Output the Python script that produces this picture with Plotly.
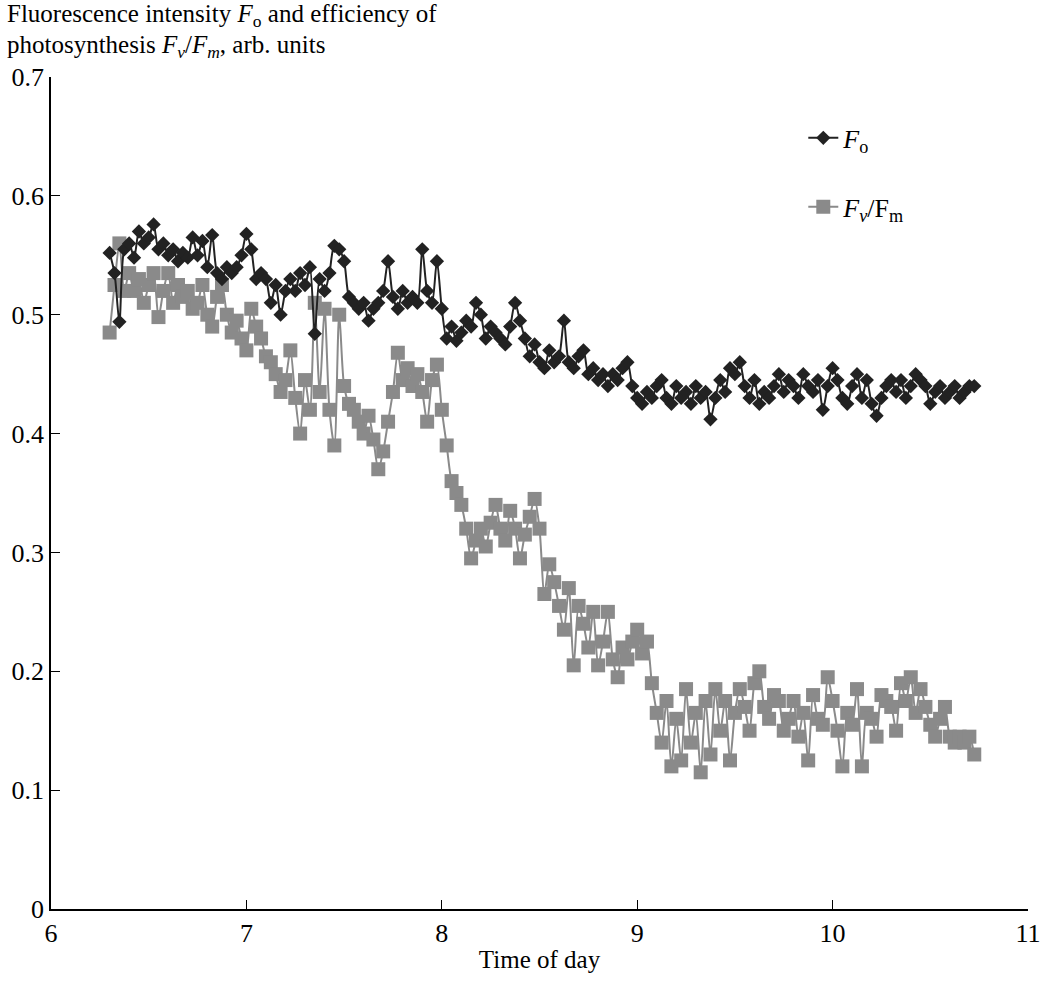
import plotly.graph_objects as go

time_h = [
    6.300, 6.325, 6.350, 6.375, 6.400, 6.425, 6.450, 6.475, 6.500, 6.525,
    6.550, 6.575, 6.600, 6.625, 6.650, 6.675, 6.700, 6.725, 6.750, 6.775,
    6.800, 6.825, 6.850, 6.875, 6.900, 6.925, 6.950, 6.975, 7.000, 7.025,
    7.050, 7.075, 7.100, 7.125, 7.150, 7.175, 7.200, 7.225, 7.250, 7.275,
    7.300, 7.325, 7.350, 7.375, 7.400, 7.425, 7.450, 7.475, 7.500, 7.525,
    7.550, 7.575, 7.600, 7.625, 7.650, 7.675, 7.700, 7.725, 7.750, 7.775,
    7.800, 7.825, 7.850, 7.875, 7.900, 7.925, 7.950, 7.975, 8.000, 8.025,
    8.050, 8.075, 8.100, 8.125, 8.150, 8.175, 8.200, 8.225, 8.250, 8.275,
    8.300, 8.325, 8.350, 8.375, 8.400, 8.425, 8.450, 8.475, 8.500, 8.525,
    8.550, 8.575, 8.600, 8.625, 8.650, 8.675, 8.700, 8.725, 8.750, 8.775,
    8.800, 8.825, 8.850, 8.875, 8.900, 8.925, 8.950, 8.975, 9.000, 9.025,
    9.050, 9.075, 9.100, 9.125, 9.150, 9.175, 9.200, 9.225, 9.250, 9.275,
    9.300, 9.325, 9.350, 9.375, 9.400, 9.425, 9.450, 9.475, 9.500, 9.525,
    9.550, 9.575, 9.600, 9.625, 9.650, 9.675, 9.700, 9.725, 9.750, 9.775,
    9.800, 9.825, 9.850, 9.875, 9.900, 9.925, 9.950, 9.975, 10.000, 10.025,
    10.050, 10.075, 10.100, 10.125, 10.150, 10.175, 10.200, 10.225, 10.250, 10.275,
    10.300, 10.325, 10.350, 10.375, 10.400, 10.425, 10.450, 10.475, 10.500, 10.525,
    10.550, 10.575, 10.600, 10.625, 10.650, 10.675, 10.700, 10.725,
]

fo = [
    0.552, 0.535, 0.494, 0.555, 0.560, 0.548, 0.570, 0.560, 0.565, 0.576,
    0.555, 0.560, 0.550, 0.555, 0.545, 0.552, 0.548, 0.565, 0.550, 0.562,
    0.540, 0.567, 0.535, 0.530, 0.540, 0.535, 0.540, 0.550, 0.568, 0.555,
    0.530, 0.535, 0.530, 0.510, 0.525, 0.500, 0.520, 0.530, 0.520, 0.535,
    0.525, 0.540, 0.484, 0.530, 0.520, 0.535, 0.558, 0.555, 0.545, 0.515,
    0.510, 0.505, 0.510, 0.495, 0.505, 0.510, 0.520, 0.545, 0.515, 0.505,
    0.520, 0.510, 0.515, 0.510, 0.555, 0.520, 0.510, 0.545, 0.505, 0.480,
    0.490, 0.478, 0.485, 0.495, 0.490, 0.510, 0.500, 0.480, 0.490, 0.485,
    0.480, 0.475, 0.490, 0.510, 0.495, 0.480, 0.465, 0.475, 0.460, 0.455,
    0.470, 0.460, 0.465, 0.495, 0.460, 0.455, 0.465, 0.470, 0.450, 0.455,
    0.445, 0.450, 0.440, 0.450, 0.445, 0.455, 0.460, 0.440, 0.430, 0.425,
    0.435, 0.430, 0.440, 0.445, 0.430, 0.425, 0.440, 0.430, 0.435, 0.425,
    0.440, 0.430, 0.435, 0.412, 0.430, 0.445, 0.435, 0.455, 0.450, 0.460,
    0.440, 0.430, 0.445, 0.425, 0.435, 0.430, 0.440, 0.450, 0.435, 0.445,
    0.440, 0.430, 0.450, 0.440, 0.435, 0.445, 0.420, 0.440, 0.455, 0.445,
    0.430, 0.425, 0.440, 0.450, 0.430, 0.445, 0.425, 0.415, 0.430, 0.440,
    0.445, 0.435, 0.445, 0.430, 0.440, 0.450, 0.445, 0.440, 0.425, 0.435,
    0.440, 0.430, 0.435, 0.440, 0.430, 0.435, 0.440, 0.440,
]

fv_fm = [
    0.485, 0.525, 0.560, 0.520, 0.535, 0.520, 0.530, 0.510, 0.525, 0.535,
    0.498, 0.520, 0.535, 0.510, 0.525, 0.515, 0.520, 0.505, 0.510, 0.525,
    0.500, 0.490, 0.515, 0.525, 0.500, 0.485, 0.495, 0.480, 0.470, 0.505,
    0.490, 0.480, 0.465, 0.460, 0.450, 0.435, 0.445, 0.470, 0.430, 0.400,
    0.445, 0.420, 0.510, 0.435, 0.505, 0.420, 0.390, 0.500, 0.440, 0.425,
    0.420, 0.410, 0.400, 0.415, 0.395, 0.370, 0.385, 0.410, 0.435, 0.468,
    0.445, 0.455, 0.440, 0.450, 0.435, 0.410, 0.445, 0.458, 0.420, 0.390,
    0.360, 0.350, 0.340, 0.320, 0.295, 0.310, 0.320, 0.305, 0.325, 0.340,
    0.320, 0.310, 0.335, 0.320, 0.295, 0.315, 0.330, 0.345, 0.320, 0.265,
    0.290, 0.275, 0.255, 0.235, 0.270, 0.205, 0.255, 0.240, 0.220, 0.250,
    0.205, 0.225, 0.250, 0.210, 0.195, 0.220, 0.210, 0.225, 0.235, 0.215,
    0.225, 0.190, 0.165, 0.140, 0.175, 0.120, 0.160, 0.125, 0.185, 0.140,
    0.165, 0.115, 0.175, 0.130, 0.185, 0.150, 0.175, 0.125, 0.165, 0.185,
    0.170, 0.150, 0.190, 0.200, 0.170, 0.160, 0.180, 0.175, 0.150, 0.160,
    0.175, 0.145, 0.165, 0.125, 0.180, 0.160, 0.155, 0.195, 0.175, 0.150,
    0.120, 0.165, 0.155, 0.185, 0.120, 0.165, 0.160, 0.145, 0.180, 0.175,
    0.170, 0.150, 0.190, 0.175, 0.195, 0.165, 0.185, 0.170, 0.155, 0.145,
    0.160, 0.170, 0.145, 0.140, 0.145, 0.140, 0.145, 0.130,
]

FONT = "Liberation Serif"
DARK = "#222222"
GRAY = "#8a8a8a"

fig = go.Figure()
fig.add_trace(go.Scatter(
    x=time_h, y=fv_fm, mode="lines+markers",
    name="<i>F<sub>v</sub></i>/F<sub>m</sub>", legendgroup="b", legendrank=2,
    line=dict(color=GRAY, width=2, shape="spline", smoothing=0.8),
    marker=dict(symbol="square", size=14, color=GRAY),
))
fig.add_trace(go.Scatter(
    x=time_h, y=fo, mode="lines+markers",
    name="<i>F</i><sub>o</sub>", legendgroup="a", legendrank=1,
    line=dict(color=DARK, width=2, shape="spline", smoothing=0.8),
    marker=dict(symbol="diamond", size=11, color=DARK),
))

axis_common = dict(
    showgrid=False, zeroline=False, showline=True, linecolor="black", linewidth=1.5,
    ticks="inside", ticklen=9, tickwidth=1.2, tickcolor="black", mirror=False,
    tickfont=dict(family=FONT, size=26, color="black"),
)

fig.update_layout(
    width=1053, height=981,
    margin=dict(l=47, r=13, t=77, b=64),
    paper_bgcolor="white", plot_bgcolor="white",
    font=dict(family=FONT, color="black"),
    xaxis=dict(range=[6, 11], tickvals=[6, 7, 8, 9, 10, 11], **axis_common,
               title=dict(text="Time of day", font=dict(family=FONT, size=25), standoff=4)),
    yaxis=dict(range=[0, 0.7], tickvals=[0, 0.1, 0.2, 0.3, 0.4, 0.5, 0.6, 0.7],
               ticktext=["0", "0.1", "0.2", "0.3", "0.4", "0.5", "0.6", "0.7"], **axis_common),
    showlegend=True,
    legend=dict(x=0.77, y=0.955, xanchor="left", yanchor="top", bgcolor="rgba(0,0,0,0)",
                traceorder="grouped", tracegroupgap=32,
                font=dict(family=FONT, size=26)),
    annotations=[
        dict(xref="paper", yref="paper", x=-47 / 993, y=(917 - 15) / 840,
             xanchor="left", yanchor="middle", align="left", showarrow=False,
             text="Fluorescence intensity <i>F</i><sub>o</sub> and efficiency of",
             font=dict(family=FONT, size=25, color="black")),
        dict(xref="paper", yref="paper", x=-47 / 993, y=(917 - 46) / 840,
             xanchor="left", yanchor="middle", align="left", showarrow=False,
             text="photosynthesis <i>F<sub>v</sub></i>/<i>F<sub>m</sub></i>, arb. units",
             font=dict(family=FONT, size=25, color="black")),
    ],
)

fig.write_html("out.html")
